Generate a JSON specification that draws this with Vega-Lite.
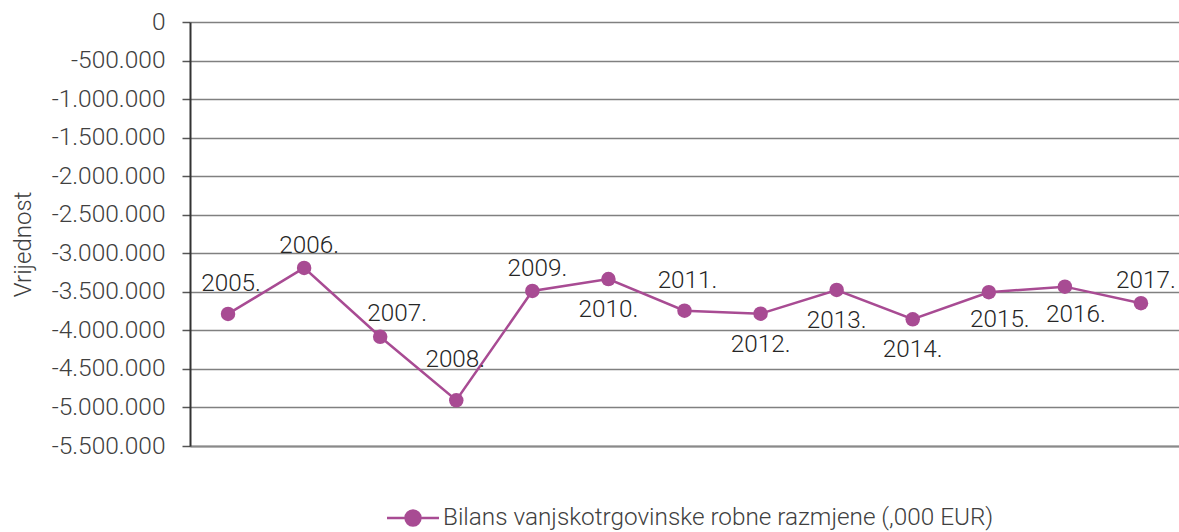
{
  "$schema": "https://vega.github.io/schema/vega-lite/v6.json",
  "autosize": "none",
  "width": 989,
  "height": 424,
  "padding": {"left": 190, "top": 22, "right": 0, "bottom": 86},
  "background": "white",
  "config": {
    "view": {"stroke": null},
    "font": "Roboto",
    "locale": {"number": {"decimal": ",", "thousands": ".", "grouping": [3], "currency": ["", " EUR"], "minus": "-"}},
    "axis": {"labelFont": "Roboto", "labelFontWeight": 300, "labelFontSize": 24.5, "labelColor": "#404040", "titleFont": "Roboto", "titleFontWeight": 300, "titleFontSize": 24, "titleColor": "#404040"},
    "legend": {"labelFont": "Roboto", "labelFontWeight": 300, "labelFontSize": 24.3, "labelColor": "#404040", "labelLimit": 0}
  },
  "data": {
    "values": [
      {"year": "2005.", "value": -3787000, "series": "Bilans vanjskotrgovinske robne razmjene (,000 EUR)"},
      {"year": "2006.", "value": -3190000, "series": "Bilans vanjskotrgovinske robne razmjene (,000 EUR)"},
      {"year": "2007.", "value": -4083000, "series": "Bilans vanjskotrgovinske robne razmjene (,000 EUR)"},
      {"year": "2008.", "value": -4907000, "series": "Bilans vanjskotrgovinske robne razmjene (,000 EUR)"},
      {"year": "2009.", "value": -3489000, "series": "Bilans vanjskotrgovinske robne razmjene (,000 EUR)"},
      {"year": "2010.", "value": -3335000, "series": "Bilans vanjskotrgovinske robne razmjene (,000 EUR)"},
      {"year": "2011.", "value": -3745000, "series": "Bilans vanjskotrgovinske robne razmjene (,000 EUR)"},
      {"year": "2012.", "value": -3784000, "series": "Bilans vanjskotrgovinske robne razmjene (,000 EUR)"},
      {"year": "2013.", "value": -3476000, "series": "Bilans vanjskotrgovinske robne razmjene (,000 EUR)"},
      {"year": "2014.", "value": -3856000, "series": "Bilans vanjskotrgovinske robne razmjene (,000 EUR)"},
      {"year": "2015.", "value": -3505000, "series": "Bilans vanjskotrgovinske robne razmjene (,000 EUR)"},
      {"year": "2016.", "value": -3433000, "series": "Bilans vanjskotrgovinske robne razmjene (,000 EUR)"},
      {"year": "2017.", "value": -3648000, "series": "Bilans vanjskotrgovinske robne razmjene (,000 EUR)"}
    ]
  },
  "encoding": {
    "x": {"field": "year", "type": "ordinal", "sort": null, "scale": {"type": "point", "padding": 0.5},
      "axis": {"title": null, "labels": false, "ticks": false, "grid": false, "domain": true, "domainColor": "#8a8a8a", "domainWidth": 2}},
    "y": {"field": "value", "type": "quantitative", "scale": {"domain": [-5500000, 0], "nice": false, "zero": false},
      "axis": {"title": "Vrijednost", "values": [0, -500000, -1000000, -1500000, -2000000, -2500000, -3000000, -3500000, -4000000, -4500000, -5000000, -5500000],
        "format": ",d", "grid": true, "gridColor": "#808080", "gridWidth": 1.5, "domainColor": "#333333", "domainWidth": 2,
        "tickColor": "#555555", "tickSize": 8, "tickWidth": 1.5, "labelPadding": 17, "titleX": -167, "titleY": 222, "titleAngle": -90, "titleBaseline": "middle"}}
  },
  "layer": [
    {
      "mark": {"type": "line", "strokeWidth": 2.5, "point": {"filled": true, "size": 210, "opacity": 1}},
      "encoding": {
        "color": {"field": "series", "type": "nominal", "scale": {"range": ["#a84b93"]},
          "legend": {"title": null, "orient": "none", "legendX": 204, "legendY": 477, "padding": 0,
            "symbolType": "M-1.5,0L-0.45,0M0.45,0L1.5,0M-0.43,0A0.43,0.43,0,1,1,0.43,0A0.43,0.43,0,1,1,-0.43,0Z",
            "symbolSize": 1200, "symbolStrokeWidth": 2.5, "symbolFillColor": "#a84b93", "symbolStrokeColor": "#a84b93", "labelOffset": 11, "labelLimit": 0}}
      }
    },
    {
      "transform": [{"filter": {"field": "year", "oneOf": ["2005.", "2011."]}}],
      "mark": {"type": "text", "font": "Roboto", "fontWeight": 300, "fontSize": 24.3, "color": "#262626", "baseline": "middle", "align": "center", "dx": 3, "dy": -30},
      "encoding": {"text": {"field": "year"}}
    },
    {
      "transform": [{"filter": {"field": "year", "oneOf": ["2006.", "2009.", "2017."]}}],
      "mark": {"type": "text", "font": "Roboto", "fontWeight": 300, "fontSize": 24.3, "color": "#262626", "baseline": "middle", "align": "center", "dx": 5, "dy": -22},
      "encoding": {"text": {"field": "year"}}
    },
    {
      "transform": [{"filter": {"field": "year", "oneOf": ["2007."]}}],
      "mark": {"type": "text", "font": "Roboto", "fontWeight": 300, "fontSize": 24.3, "color": "#262626", "baseline": "middle", "align": "center", "dx": 17, "dy": -23},
      "encoding": {"text": {"field": "year"}}
    },
    {
      "transform": [{"filter": {"field": "year", "oneOf": ["2008."]}}],
      "mark": {"type": "text", "font": "Roboto", "fontWeight": 300, "fontSize": 24.3, "color": "#262626", "baseline": "middle", "align": "center", "dx": -1, "dy": -40},
      "encoding": {"text": {"field": "year"}}
    },
    {
      "transform": [{"filter": {"field": "year", "oneOf": ["2010.", "2012.", "2013.", "2014."]}}],
      "mark": {"type": "text", "font": "Roboto", "fontWeight": 300, "fontSize": 24.3, "color": "#262626", "baseline": "middle", "align": "center", "dx": 0, "dy": 31},
      "encoding": {"text": {"field": "year"}}
    },
    {
      "transform": [{"filter": {"field": "year", "oneOf": ["2015.", "2016."]}}],
      "mark": {"type": "text", "font": "Roboto", "fontWeight": 300, "fontSize": 24.3, "color": "#262626", "baseline": "middle", "align": "center", "dx": 11, "dy": 28},
      "encoding": {"text": {"field": "year"}}
    }
  ]
}
